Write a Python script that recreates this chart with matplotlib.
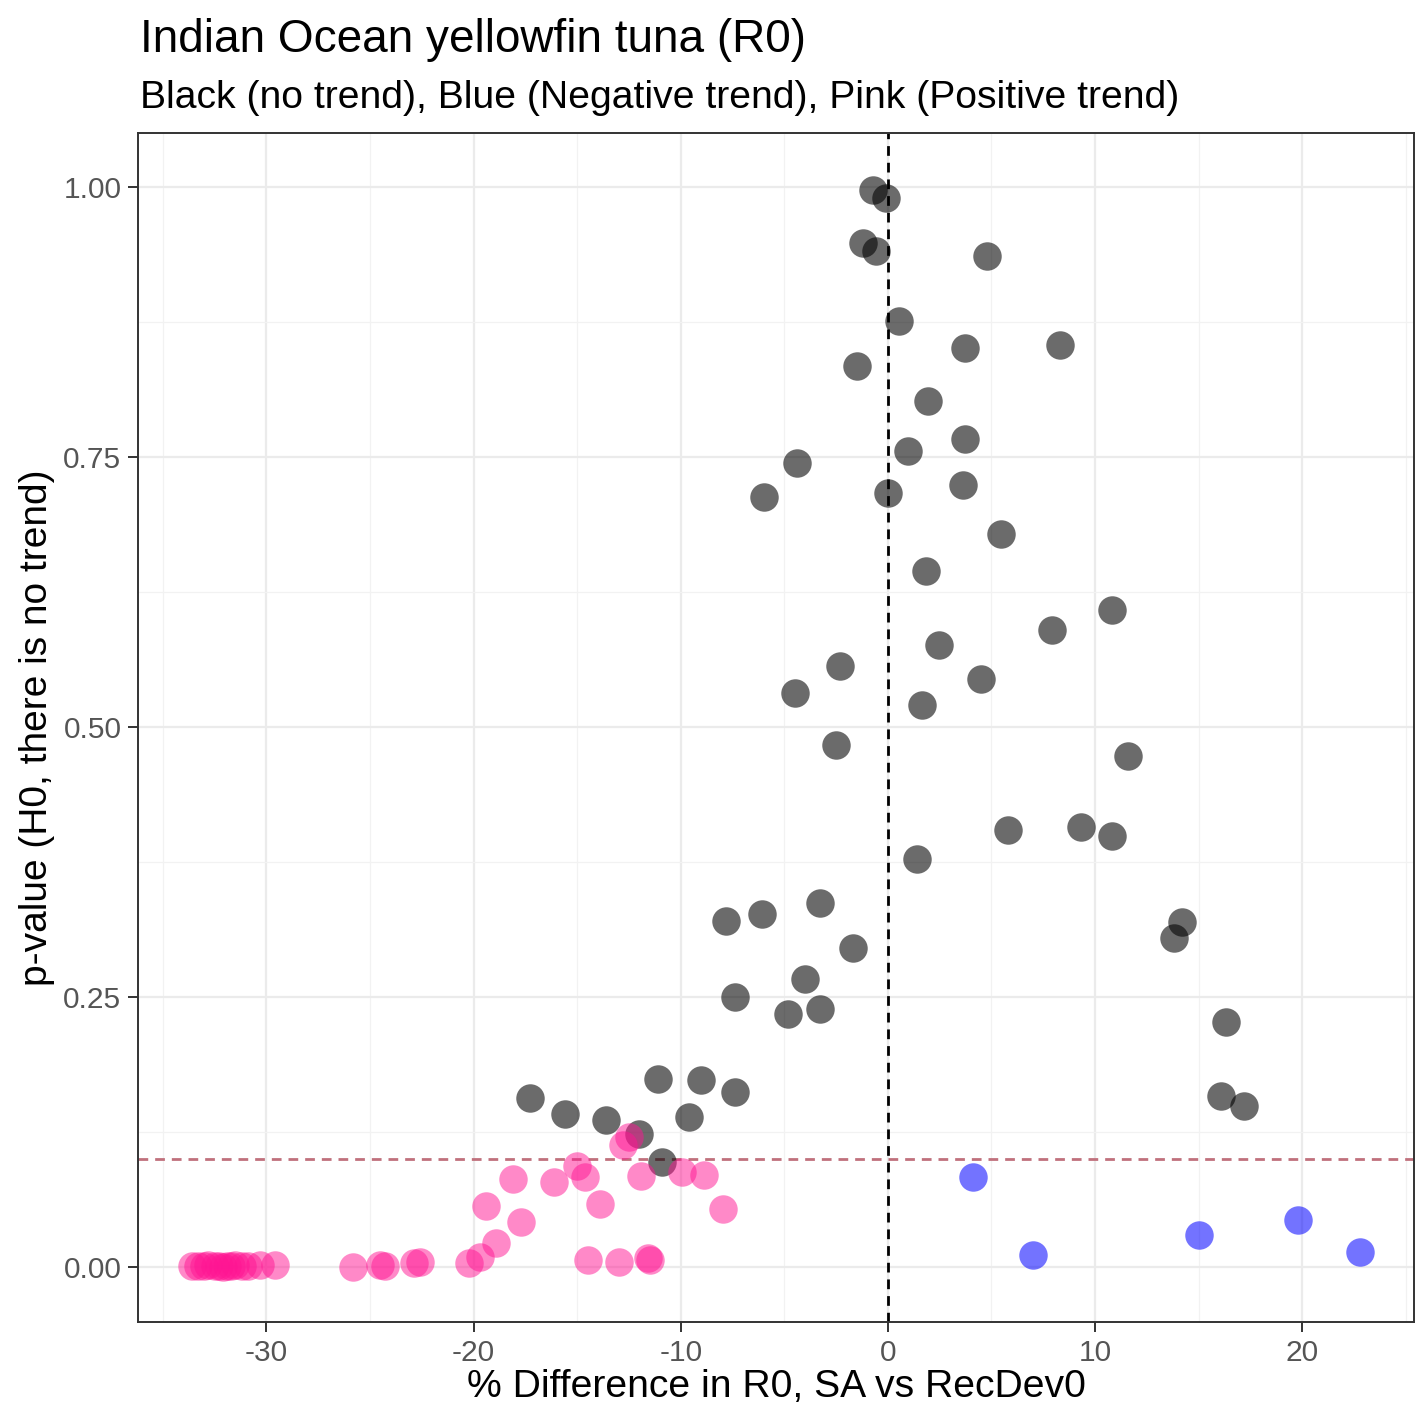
import matplotlib.pyplot as plt
import numpy as np

plt.rcParams['font.family'] = ['Liberation Sans', 'DejaVu Sans']
plt.rcParams['axes.unicode_minus'] = False

# p-values from the trend test against % difference in R0
no_trend_x = [-0.7, -0.1, -1.2, -0.55, 4.8, 0.55, 3.7, 8.3, -1.5, 1.95,
              3.7, 0.95, -4.4, -6.0, 0.0, 3.65, 5.45, 1.85, 10.8, 7.9,
              2.45, -2.3, 4.5, -4.5, 1.65, -2.5, 11.6, 5.8, 9.3, 10.8,
              1.4, -7.8, -6.1, -3.3, -1.7, 13.8, 14.2, -4.0, -7.4, -4.8,
              -3.3, 16.3, 16.1, 17.2, -17.3, -15.6, -13.6, -11.1, -9.0, -7.4,
              -9.6, -12.0, -10.9]
no_trend_p = [0.997, 0.990, 0.948, 0.941, 0.936, 0.876, 0.851, 0.854, 0.834, 0.802,
              0.767, 0.756, 0.744, 0.713, 0.717, 0.724, 0.679, 0.644, 0.608, 0.590,
              0.576, 0.556, 0.544, 0.531, 0.520, 0.483, 0.473, 0.405, 0.407, 0.399,
              0.378, 0.320, 0.327, 0.337, 0.295, 0.305, 0.319, 0.267, 0.250, 0.234,
              0.239, 0.227, 0.158, 0.149, 0.156, 0.142, 0.136, 0.174, 0.173, 0.162,
              0.139, 0.123, 0.097]

pos_trend_x = [-33.6, -33.3, -33.0, -32.8, -32.5, -32.3, -32.1, -31.9, -31.7, -31.5,
               -31.2, -30.9, -30.3, -29.6, -25.8, -24.5, -24.3, -22.9, -22.6, -20.2,
               -19.7, -18.9, -19.4, -17.7, -18.1, -16.1, -15.0, -14.6, -13.9, -14.5,
               -13.0, -11.6, -11.5, -12.8, -12.5, -11.9, -9.95, -8.9, -7.95]
pos_trend_p = [0.001, 0.001, 0.001, 0.002, 0.001, 0.001, 0.000, 0.001, 0.001, 0.002,
               0.001, 0.001, 0.002, 0.002, 0.000, 0.002, 0.001, 0.004, 0.005, 0.004,
               0.009, 0.022, 0.056, 0.042, 0.081, 0.079, 0.093, 0.083, 0.058, 0.006,
               0.005, 0.008, 0.006, 0.113, 0.120, 0.084, 0.088, 0.085, 0.054]

neg_trend_x = [4.1, 7.0, 15.0, 19.8, 22.8]
neg_trend_p = [0.083, 0.011, 0.030, 0.043, 0.014]

fig = plt.figure(figsize=(14.16, 14.18), dpi=100)
ax = fig.add_axes([0.0975, 0.0677, 0.9011, 0.8385])

ax.set_xlim(-36.2, 25.4)
ax.set_ylim(-0.051, 1.05)
ax.set_xticks([-30, -20, -10, 0, 10, 20])
ax.set_yticks([0, 0.25, 0.5, 0.75, 1.0])
ax.set_yticklabels(['0.00', '0.25', '0.50', '0.75', '1.00'])
ax.set_xticks(np.arange(-35, 26, 10), minor=True)
ax.set_yticks([0.125, 0.375, 0.625, 0.875], minor=True)

ax.grid(True, which='major', color='#ebebeb', lw=1.6, zorder=0)
ax.grid(True, which='minor', color='#f2f2f2', lw=0.9, zorder=0)
ax.set_axisbelow(True)
for s in ax.spines.values():
    s.set_color('#333333')
    s.set_linewidth(1.4)
ax.tick_params(which='major', length=7, width=1.4, color='#333333',
               labelsize=21.5, labelcolor='#555555', pad=5)
ax.tick_params(which='minor', length=0)

ax.axvline(0, color='black', lw=2, ls=(0, (3.5, 2.5)), zorder=1)
ax.axhline(0.1, color='#c0707c', lw=2, ls=(0, (3.5, 2.5)), zorder=1)

ax.scatter(no_trend_x, no_trend_p, s=420, color='black', alpha=0.58, lw=0, zorder=3)
ax.scatter(pos_trend_x, pos_trend_p, s=420, color='#ff1493', alpha=0.5, lw=0, zorder=3)
ax.scatter(neg_trend_x, neg_trend_p, s=420, color='#0000ff', alpha=0.55, lw=0, zorder=3)

ax.set_xlabel('% Difference in R0, SA vs RecDev0', fontsize=28.2, labelpad=2)
ax.set_ylabel('p-value (H0, there is no trend)', fontsize=28, labelpad=6)

fig.text(0.099, 0.963, 'Indian Ocean yellowfin tuna (R0)', fontsize=33, va='baseline')
fig.text(0.099, 0.924, 'Black (no trend), Blue (Negative trend), Pink (Positive trend)',
         fontsize=28.2, va='baseline')

fig.savefig('out.png', dpi=100)
